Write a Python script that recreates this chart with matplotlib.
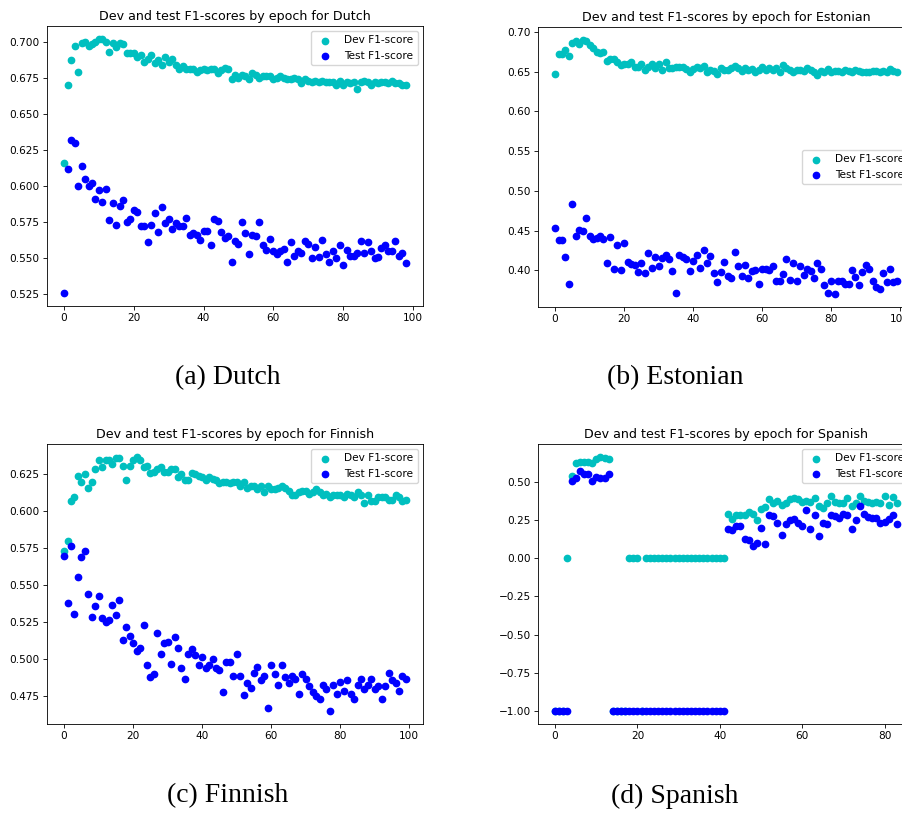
import matplotlib
matplotlib.use("Agg")
import matplotlib.pyplot as plt
import numpy as np

# F1-scores per epoch, one dev / test pair per language
dutch_dev = [0.616, 0.670, 0.687, 0.697, 0.679, 0.699, 0.700, 0.697, 0.698, 0.700,
             0.702, 0.702, 0.700, 0.693, 0.699, 0.696, 0.699, 0.698, 0.692, 0.692,
             0.692, 0.689, 0.691, 0.686, 0.688, 0.691, 0.685, 0.687, 0.684, 0.689,
             0.686, 0.688, 0.684, 0.681, 0.683, 0.681, 0.681, 0.681, 0.679, 0.680,
             0.681, 0.680, 0.681, 0.681, 0.678, 0.680, 0.682, 0.681, 0.674, 0.677,
             0.675, 0.677, 0.676, 0.674, 0.678, 0.677, 0.675, 0.676, 0.676, 0.676,
             0.674, 0.675, 0.676, 0.675, 0.674, 0.674, 0.675, 0.674, 0.671, 0.674,
             0.673, 0.672, 0.673, 0.672, 0.673, 0.672, 0.672, 0.672, 0.670, 0.673,
             0.670, 0.672, 0.671, 0.672, 0.667, 0.672, 0.673, 0.672, 0.670, 0.672,
             0.671, 0.672, 0.672, 0.671, 0.673, 0.671, 0.671, 0.670, 0.670]
dutch_test = [0.5255, 0.612, 0.6315, 0.630, 0.600, 0.614, 0.605, 0.600, 0.602, 0.591,
              0.597, 0.589, 0.598, 0.576, 0.588, 0.573, 0.586, 0.590, 0.575, 0.577,
              0.583, 0.582, 0.572, 0.572, 0.561, 0.573, 0.581, 0.568, 0.585, 0.574,
              0.577, 0.570, 0.574, 0.572, 0.572, 0.578, 0.566, 0.567, 0.566, 0.5625,
              0.5685, 0.569, 0.559, 0.577, 0.5755, 0.568, 0.564, 0.565, 0.547, 0.562,
              0.560, 0.575, 0.567, 0.553, 0.566, 0.565, 0.575, 0.559, 0.5555, 0.563,
              0.555, 0.553, 0.555, 0.556, 0.547, 0.561, 0.551, 0.555, 0.5535, 0.5615,
              0.560, 0.550, 0.5575, 0.5505, 0.5625, 0.553, 0.5475, 0.555, 0.550, 0.559,
              0.545, 0.5555, 0.5515, 0.5515, 0.5535, 0.5615, 0.5535, 0.561, 0.5545, 0.550,
              0.5505, 0.557, 0.559, 0.5545, 0.555, 0.562, 0.551, 0.5535, 0.5465]

estonian_dev = [0.647, 0.672, 0.672, 0.677, 0.670, 0.686, 0.688, 0.684, 0.690, 0.688,
                0.683, 0.679, 0.674, 0.673, 0.674, 0.663, 0.666, 0.666, 0.662, 0.658,
                0.660, 0.660, 0.662, 0.656, 0.656, 0.659, 0.652, 0.656, 0.660, 0.654,
                0.659, 0.652, 0.662, 0.655, 0.654, 0.656, 0.656, 0.656, 0.653, 0.649,
                0.653, 0.656, 0.654, 0.657, 0.649, 0.652, 0.651, 0.647, 0.655, 0.652,
                0.652, 0.655, 0.657, 0.655, 0.651, 0.654, 0.652, 0.653, 0.650, 0.652,
                0.656, 0.652, 0.655, 0.652, 0.655, 0.649, 0.658, 0.654, 0.652, 0.650,
                0.652, 0.652, 0.651, 0.655, 0.652, 0.649, 0.646, 0.651, 0.650, 0.653,
                0.650, 0.651, 0.651, 0.650, 0.652, 0.651, 0.650, 0.652, 0.651, 0.650,
                0.650, 0.649, 0.651, 0.651, 0.650, 0.651, 0.650, 0.653, 0.651, 0.649]
estonian_test = [0.453, 0.438, 0.438, 0.417, 0.383, 0.484, 0.443, 0.451, 0.450, 0.466,
                 0.443, 0.440, 0.441, 0.443, 0.440, 0.409, 0.442, 0.402, 0.432, 0.400,
                 0.434, 0.410, 0.408, 0.407, 0.398, 0.409, 0.397, 0.422, 0.403, 0.417,
                 0.405, 0.415, 0.419, 0.414, 0.399, 0.371, 0.419, 0.417, 0.414, 0.399,
                 0.412, 0.419, 0.403, 0.426, 0.409, 0.418, 0.397, 0.386, 0.398, 0.410,
                 0.393, 0.390, 0.423, 0.406, 0.393, 0.407, 0.390, 0.399, 0.401, 0.383,
                 0.402, 0.402, 0.400, 0.405, 0.387, 0.387, 0.396, 0.414, 0.388, 0.409,
                 0.387, 0.405, 0.394, 0.402, 0.399, 0.390, 0.409, 0.402, 0.382, 0.372,
                 0.387, 0.370, 0.387, 0.387, 0.383, 0.383, 0.400, 0.392, 0.382, 0.398,
                 0.407, 0.402, 0.387, 0.379, 0.377, 0.397, 0.385, 0.402, 0.385, 0.387]

finnish_dev = [0.573, 0.580, 0.607, 0.610, 0.624, 0.620, 0.625, 0.616, 0.620, 0.629,
               0.635, 0.630, 0.635, 0.635, 0.632, 0.636, 0.636, 0.631, 0.621, 0.631,
               0.635, 0.637, 0.635, 0.630, 0.631, 0.626, 0.627, 0.629, 0.630, 0.627,
               0.627, 0.629, 0.629, 0.623, 0.625, 0.621, 0.621, 0.626, 0.625, 0.624,
               0.623, 0.621, 0.623, 0.622, 0.621, 0.619, 0.620, 0.620, 0.619, 0.620,
               0.620, 0.617, 0.620, 0.616, 0.617, 0.617, 0.615, 0.617, 0.613, 0.617,
               0.615, 0.615, 0.616, 0.617, 0.616, 0.614, 0.611, 0.611, 0.613, 0.614,
               0.614, 0.612, 0.613, 0.615, 0.613, 0.611, 0.612, 0.610, 0.611, 0.611,
               0.611, 0.610, 0.612, 0.611, 0.610, 0.613, 0.611, 0.606, 0.611, 0.607,
               0.607, 0.610, 0.610, 0.610, 0.608, 0.608, 0.611, 0.610, 0.607, 0.608]
finnish_test = [0.570, 0.538, 0.577, 0.531, 0.556, 0.569, 0.573, 0.544, 0.529, 0.536,
                0.543, 0.528, 0.525, 0.527, 0.537, 0.530, 0.540, 0.513, 0.522, 0.516,
                0.511, 0.506, 0.508, 0.523, 0.496, 0.488, 0.490, 0.518, 0.504, 0.511,
                0.512, 0.497, 0.515, 0.508, 0.494, 0.487, 0.504, 0.507, 0.503, 0.496,
                0.502, 0.494, 0.496, 0.500, 0.494, 0.493, 0.478, 0.498, 0.498, 0.489,
                0.504, 0.489, 0.476, 0.484, 0.481, 0.491, 0.495, 0.486, 0.489, 0.467,
                0.496, 0.490, 0.483, 0.496, 0.488, 0.484, 0.489, 0.487, 0.477, 0.490,
                0.487, 0.482, 0.478, 0.475, 0.473, 0.483, 0.480, 0.465, 0.483, 0.477,
                0.485, 0.479, 0.486, 0.477, 0.473, 0.483, 0.487, 0.480, 0.483, 0.487,
                0.480, 0.482, 0.473, 0.482, 0.491, 0.486, 0.484, 0.479, 0.489, 0.487]

spanish_dev = [-1.0, -1.0, -1.0, 0.0, 0.535, 0.620, 0.630, 0.630, 0.630, 0.620,
               0.645, 0.663, 0.656, 0.650, -1.0, -1.0, -1.0, -1.0, 0.0, 0.0,
               0.0, -1.0, 0.0, 0.0, 0.0, 0.0, 0.0, 0.0, 0.0, 0.0,
               0.0, 0.0, 0.0, 0.0, 0.0, 0.0, 0.0, 0.0, 0.0, 0.0,
               0.0, 0.0, 0.292, 0.255, 0.280, 0.280, 0.280, 0.300, 0.290, 0.250,
               0.320, 0.335, 0.390, 0.360, 0.375, 0.350, 0.360, 0.385, 0.395, 0.385,
               0.368, 0.375, 0.368, 0.395, 0.340, 0.330, 0.363, 0.407, 0.368, 0.360,
               0.363, 0.395, 0.340, 0.360, 0.407, 0.375, 0.368, 0.360, 0.368, 0.360,
               0.407, 0.350, 0.402, 0.360]
spanish_test = [-1.0, -1.0, -1.0, -1.0, 0.504, 0.526, 0.570, 0.548, 0.548, 0.504,
                0.530, 0.526, 0.526, 0.548, -1.0, -1.0, -1.0, -1.0, -1.0, -1.0,
                -1.0, -1.0, -1.0, -1.0, -1.0, -1.0, -1.0, -1.0, -1.0, -1.0,
                -1.0, -1.0, -1.0, -1.0, -1.0, -1.0, -1.0, -1.0, -1.0, -1.0,
                -1.0, -1.0, 0.190, 0.185, 0.210, 0.210, 0.125, 0.118, 0.080, 0.100,
                0.200, 0.090, 0.280, 0.275, 0.233, 0.150, 0.222, 0.250, 0.255, 0.233,
                0.210, 0.315, 0.190, 0.283, 0.146, 0.233, 0.222, 0.280, 0.275, 0.260,
                0.287, 0.283, 0.190, 0.250, 0.340, 0.290, 0.270, 0.260, 0.265, 0.233,
                0.237, 0.255, 0.280, 0.222]

languages = ["Dutch", "Estonian", "Finnish", "Spanish"]
captions = ["(a) Dutch", "(b) Estonian", "(c) Finnish", "(d) Spanish"]
dev_scores = [dutch_dev, estonian_dev, finnish_dev, spanish_dev]
test_scores = [dutch_test, estonian_test, finnish_test, spanish_test]
legend_locs = ["upper right", "center right", "upper right", "upper right"]

# each panel is a default 6.4x4.8 figure shrunk by ~0.76
k = 0.758
plt.rcParams.update({
    "font.size": 10 * k,
    "axes.titlesize": 12 * k,
    "axes.titlepad": 6 * k,
    "axes.linewidth": 0.8 * k,
    "xtick.major.size": 3.5 * k,
    "ytick.major.size": 3.5 * k,
    "xtick.major.width": 0.8 * k,
    "ytick.major.width": 0.8 * k,
    "xtick.major.pad": 3.5 * k,
    "ytick.major.pad": 3.5 * k,
    "legend.fontsize": 10 * k,
})

fig = plt.figure(figsize=(9.02, 8.14), dpi=100)
W, H = 902, 814
# axes boxes in pixels: left, top; the right column runs past the page edge
boxes = [(47, 26), (538, 27), (47, 444), (538, 444)]
cap_pos = [(228, 378), (675, 378), (228, 796), (675, 796)]
ax_w, ax_h = 376, 280

for i, lang in enumerate(languages):
    left, top = boxes[i]
    ax = fig.add_axes([left / W, (H - top - ax_h) / H, ax_w / W, ax_h / H])
    epochs = np.arange(len(dev_scores[i]))
    ax.scatter(epochs, dev_scores[i], color="c", s=36 * k * k, label="Dev F1-score")
    ax.scatter(epochs, test_scores[i], color="b", s=36 * k * k, label="Test F1-score")
    ax.set_title("Dev and test F1-scores by epoch for " + lang)
    ax.legend(loc=legend_locs[i])
    cx, cy = cap_pos[i]
    fig.text(cx / W, 1 - cy / H, captions[i], ha="center", va="center",
             family="Liberation Serif", fontsize=20)

fig.savefig("out.png", dpi=100)
